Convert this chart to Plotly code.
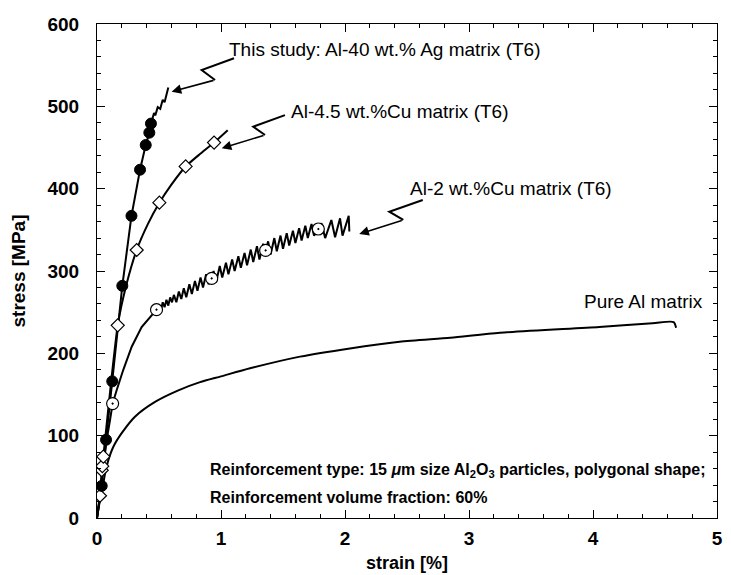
import plotly.graph_objects as go

# ---- data (strain %, stress MPa) ----
ag_line_x = [0, 0.038, 0.073, 0.123, 0.204, 0.278, 0.347, 0.393, 0.422, 0.435, 0.445, 0.46, 0.47, 0.49, 0.51, 0.53, 0.545, 0.56, 0.575]
ag_line_y = [0, 39, 95, 166, 282, 367, 423, 453, 468, 479, 484, 492, 489, 499, 497, 508, 505, 516, 523]
ag_mark_x = [0.038, 0.073, 0.123, 0.204, 0.278, 0.347, 0.393, 0.422, 0.435]
ag_mark_y = [39, 95, 166, 282, 367, 423, 453, 468, 479]

cu45_line_x = [0, 0.024, 0.038, 0.051, 0.11, 0.167, 0.24, 0.32, 0.41, 0.503, 0.6, 0.715, 0.83, 0.944, 1.054]
cu45_line_y = [0, 27, 58, 74.5, 160, 234, 285, 325.5, 357, 383, 405, 427, 442, 456, 471]
cu45_mark_x = [0.024, 0.038, 0.043, 0.051, 0.167, 0.32, 0.503, 0.715, 0.944]
cu45_mark_y = [27, 58, 63, 74.5, 234, 325.5, 383, 427, 456]

cu2_line_x = [0, 0.03, 0.078, 0.105, 0.126, 0.159, 0.212, 0.28, 0.36, 0.48,
              0.50, 0.515, 0.53, 0.545, 0.56, 0.575, 0.59, 0.605, 0.62, 0.64, 0.66, 0.68, 0.70, 0.72,
              0.745, 0.765, 0.79, 0.81, 0.835, 0.855, 0.88, 0.90, 0.925, 0.94, 0.96, 0.99, 1.01, 1.04,
              1.06, 1.09, 1.11, 1.14, 1.16, 1.19, 1.21, 1.24, 1.26, 1.29, 1.31, 1.34, 1.36, 1.38,
              1.40, 1.43, 1.45, 1.48, 1.50, 1.53, 1.55, 1.58, 1.60, 1.63, 1.65, 1.68, 1.70, 1.73,
              1.75, 1.785, 1.81, 1.84, 1.89, 1.92, 1.96, 1.98, 2.03, 2.035]
cu2_line_y = [0, 35, 95, 119, 139, 155.5, 180, 208, 232, 253,
              258, 252, 262, 256, 265, 258, 268, 262, 271, 262, 275, 266, 279, 268,
              284, 272, 288, 276, 292, 280, 296, 284, 291, 300, 286, 306, 292, 310,
              296, 314, 300, 318, 304, 322, 307, 326, 311, 330, 314, 333, 325, 336,
              320, 340, 324, 343, 327, 346, 331, 349, 334, 352, 337, 355, 340, 357,
              343, 351, 358, 340, 362, 341, 364, 343, 367, 348]
cu2_mark_x = [0.126, 0.48, 0.925, 1.36, 1.785]
cu2_mark_y = [139, 253, 291, 325, 351]

al_x = [0, 0.02, 0.038, 0.065, 0.091, 0.132, 0.199, 0.306, 0.468, 0.656, 0.831, 1.0, 1.234, 1.637, 2.04,
        2.44, 2.85, 3.25, 4.05, 4.48, 4.65, 4.67]
al_y = [0, 18, 30, 54, 70, 86.6, 103, 123, 141, 155, 165, 172, 181.8, 196, 206,
        214, 219, 225, 232, 236.5, 238, 231]

labels = ["This study: Al-40 wt.% Ag matrix (T6)", "Al-4.5 wt.%Cu matrix (T6)",
          "Al-2 wt.%Cu matrix (T6)", "Pure Al matrix"]

xticks = [0, 1, 2, 3, 4, 5]
yticks = [0, 100, 200, 300, 400, 500, 600]

# ---- figure ----
fig = go.Figure()
LW = 2
fig.add_trace(go.Scatter(x=al_x, y=al_y, mode="lines", line=dict(color="black", width=LW, shape="spline", smoothing=0.7)))
fig.add_trace(go.Scatter(x=cu2_line_x, y=cu2_line_y, mode="lines", line=dict(color="black", width=LW)))
fig.add_trace(go.Scatter(x=cu45_line_x, y=cu45_line_y, mode="lines", line=dict(color="black", width=LW, shape="spline", smoothing=0.5)))
fig.add_trace(go.Scatter(x=ag_line_x, y=ag_line_y, mode="lines", line=dict(color="black", width=LW)))
fig.add_trace(go.Scatter(x=cu2_mark_x, y=cu2_mark_y, mode="markers",
                         marker=dict(symbol="circle-dot", size=12, color="white", line=dict(color="black", width=1.2))))
fig.add_trace(go.Scatter(x=cu45_mark_x, y=cu45_mark_y, mode="markers",
                         marker=dict(symbol="diamond", size=10, color="white", line=dict(color="black", width=1.2))))
fig.add_trace(go.Scatter(x=ag_mark_x, y=ag_mark_y, mode="markers",
                         marker=dict(symbol="circle", size=11, color="black", line=dict(color="black", width=1))))

# zigzag arrows (decorative call-outs)
arrows = [
    [(1.105, 558.4), (0.844, 544.2), (0.952, 532.0), (0.602, 517.8)],
    [(1.516, 489.3), (1.26, 475.3), (1.355, 465.2), (1.006, 449.0)],
    [(2.627, 386.3), (2.357, 372.0), (2.47, 362.0), (2.115, 345.0)],
]
for pts in arrows:
    path = "M {} {} L {} {} L {} {}".format(pts[0][0], pts[0][1], pts[1][0], pts[1][1], pts[2][0], pts[2][1])
    fig.add_shape(type="path", path=path, xref="x", yref="y", line=dict(color="black", width=2))
    fig.add_annotation(x=pts[3][0], y=pts[3][1], ax=pts[2][0], ay=pts[2][1], xref="x", yref="y",
                       axref="x", ayref="y", text="", showarrow=True, arrowhead=2, arrowsize=1.2,
                       arrowwidth=1.6, arrowcolor="black")

tf = dict(family="Liberation Sans, Arial, sans-serif", size=19, color="black")
fig.add_annotation(x=1.05, y=569, text=labels[0], showarrow=False, xanchor="left", yanchor="middle", font=tf)
fig.add_annotation(x=1.55, y=494, text=labels[1], showarrow=False, xanchor="left", yanchor="middle", font=tf)
fig.add_annotation(x=2.51, y=400, text=labels[2], showarrow=False, xanchor="left", yanchor="middle", font=tf)
fig.add_annotation(x=3.91, y=263, text=labels[3], showarrow=False, xanchor="left", yanchor="middle", font=tf)

bf = dict(family="Liberation Sans, Arial, sans-serif", size=16, color="black", weight="bold")
fig.add_annotation(x=0.895, y=58, text="Reinforcement type: 15 <i>μ</i>m size Al<sub>2</sub>O<sub>3</sub> particles, polygonal shape;",
                   showarrow=False, xanchor="left", yanchor="middle", font=bf)
fig.add_annotation(x=0.895, y=25, text="Reinforcement volume fraction: 60%",
                   showarrow=False, xanchor="left", yanchor="middle", font=bf)

axfont = dict(family="Liberation Sans, Arial, sans-serif", size=19, color="black", weight="bold")
titfont = dict(family="Liberation Sans, Arial, sans-serif", size=18, color="black", weight="bold")
common = dict(showline=True, linecolor="black", linewidth=1, mirror="allticks", ticks="inside",
              ticklen=8, tickwidth=1, tickcolor="black", showgrid=False, zeroline=False,
              tickfont=axfont, automargin=False)
fig.update_xaxes(range=[0, 5], tickvals=xticks, ticktext=[str(v) for v in xticks],
                 title=dict(text="strain [%]", font=titfont, standoff=8),
                 minor=dict(ticks="inside", dtick=0.2, ticklen=4, tickcolor="black", showgrid=False),
                 ticklabelstandoff=3, **common)
fig.update_yaxes(range=[0, 600], tickvals=yticks, ticktext=[str(v) for v in yticks],
                 title=dict(text="stress [MPa]", font=axfont, standoff=20),
                 minor=dict(ticks="inside", dtick=20, ticklen=4, tickcolor="black", showgrid=False),
                 ticklabelstandoff=13, **common)

# page body adds an 8px offset, so the figure is sized to fit the 731x575 window
fig.update_layout(width=723, height=567, margin=dict(l=89, r=14, t=16, b=57),
                  plot_bgcolor="white", paper_bgcolor="white", showlegend=False)

fig.write_html("out.html")
